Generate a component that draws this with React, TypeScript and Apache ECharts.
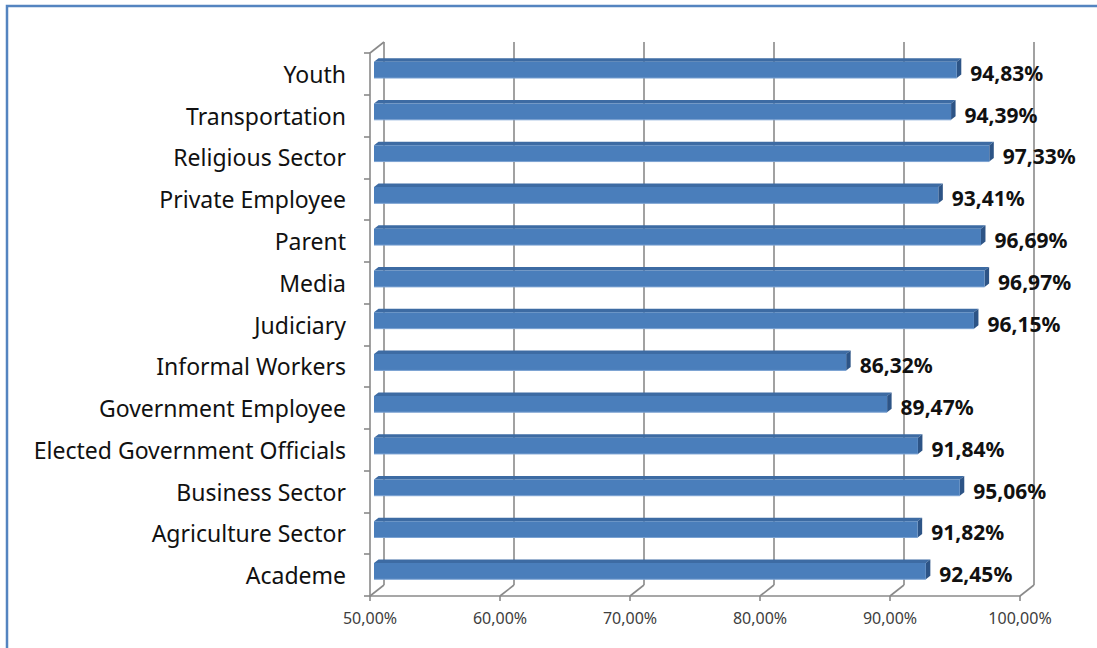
import React, { useEffect, useRef } from "react";
import * as echarts from "echarts";

const categories = [
  "Youth",
  "Transportation",
  "Religious Sector",
  "Private Employee",
  "Parent",
  "Media",
  "Judiciary",
  "Informal Workers",
  "Government Employee",
  "Elected Government Officials",
  "Business Sector",
  "Agriculture Sector",
  "Academe",
];
const values = [94.83, 94.39, 97.33, 93.41, 96.69, 96.97, 96.15, 86.32, 89.47, 91.84, 95.06, 91.82, 92.45];
const xTicks = [50, 60, 70, 80, 90, 100];
const xMin = 50;
const xMax = 100;

const fmt = (v: number) => v.toFixed(2).replace(".", ",") + "%";

export default function App() {
  const ref = useRef<HTMLDivElement>(null);
  useEffect(() => {
    if (!ref.current) return;
    const chart = echarts.init(ref.current, undefined, { renderer: "svg" });
    const DX = 14;
    const DY = -11;
    const gridColor = "#8a8a8a";

    const gridRender = (params: any, api: any) => {
      const cs = params.coordSys;
      const v = api.value(0);
      const p = api.coord([v, 0]);
      const x = p[0];
      const top = cs.y;
      const bottom = cs.y + cs.height;
      const children: any[] = [
        {
          type: "line",
          shape: { x1: x + DX, y1: top + DY, x2: x + DX, y2: bottom + DY },
          style: { stroke: gridColor, lineWidth: 1.6 },
        },
        {
          type: "line",
          shape: { x1: x, y1: bottom, x2: x + DX, y2: bottom + DY },
          style: { stroke: gridColor, lineWidth: 1.6 },
        },
      ];
      if (params.dataIndex === 0) {
        children.push({
          type: "line",
          shape: { x1: x, y1: top, x2: x + DX, y2: top + DY },
          style: { stroke: gridColor, lineWidth: 1.6 },
        });
      }
      return { type: "group", children };
    };

    const barRender = (params: any, api: any) => {
      const idx = api.value(0);
      const v = api.value(1);
      const start = api.coord([xMin, idx]);
      const end = api.coord([v, idx]);
      const band = api.size([0, 1])[1];
      const h = band * 0.39;
      const ox = 4;
      const oy = -4;
      const bx = 4.5;
      const by = -3.5;
      const x0 = start[0] + ox;
      const x1 = end[0] + ox;
      const yt = start[1] + oy - h / 2;
      const yb = start[1] + oy + h / 2;
      return {
        type: "group",
        children: [
          {
            type: "polygon",
            shape: { points: [[x0, yt], [x0 + bx, yt + by], [x1 + bx, yt + by], [x1, yt]] },
            style: { fill: "#3d6ba3" },
          },
          {
            type: "polygon",
            shape: { points: [[x1, yt], [x1 + bx, yt + by], [x1 + bx, yb + by], [x1, yb]] },
            style: { fill: "#2d5486" },
          },
          {
            type: "rect",
            shape: { x: x0, y: yt, width: x1 - x0, height: h },
            style: { fill: "#4a7ebb" },
          },
          {
            type: "line",
            shape: { x1: x0, y1: yb, x2: x1, y2: yb },
            style: { stroke: "#7ba2d2", lineWidth: 1 },
          },
          {
            type: "text",
            style: {
              x: x1 + bx + 9,
              y: start[1] + oy + 3,
              text: fmt(v),
              fill: "#111",
              font: "bold 21px 'Noto Sans'",
              verticalAlign: "middle",
              align: "left",
            },
          },
        ],
      };
    };

    chart.setOption({
      animation: false,
      backgroundColor: "#fff",
      graphic: [
        {
          type: "rect",
          shape: { x: 7, y: 6, width: 1200, height: 800 },
          style: { fill: "none", stroke: "#5484c0", lineWidth: 2.5 },
          z: 100,
        },
      ],
      grid: { left: 370, right: 77, top: 53, bottom: 52, containLabel: false },
      xAxis: {
        type: "value",
        min: xMin,
        max: xMax,
        interval: 10,
        axisLine: { show: true, lineStyle: { color: gridColor, width: 1.6 } },
        axisTick: { show: true, length: 5, lineStyle: { color: gridColor, width: 1.6 } },
        splitLine: { show: false },
        axisLabel: {
          formatter: (v: number) => fmt(v),
          fontFamily: "Noto Sans",
          fontSize: 16,
          color: "#404040",
          margin: 14,
        },
      },
      yAxis: {
        type: "category",
        data: categories,
        inverse: true,
        axisLine: { show: true, lineStyle: { color: gridColor, width: 1.6 } },
        axisTick: { show: true, length: 6, lineStyle: { color: gridColor, width: 1.6 } },
        axisLabel: {
          fontFamily: "Noto Sans",
          fontSize: 23,
          color: "#111",
          margin: 24,
          padding: [3, 0, 0, 0],
        },
        splitLine: { show: false },
      },
      series: [
        {
          type: "custom",
          renderItem: gridRender,
          data: xTicks.map((t) => [t, 0]),
          encode: { x: 0, y: 1 },
          z: 1,
          silent: true,
        },
        {
          type: "custom",
          renderItem: barRender,
          data: values.map((v, i) => [i, v]),
          encode: { y: 0, x: 1 },
          z: 2,
        },
      ],
    });
    return () => chart.dispose();
  }, []);
  return (
    <div
      ref={ref}
      style={{ position: "fixed", left: 0, top: 0, width: 1097, height: 648 }}
    />
  );
}
